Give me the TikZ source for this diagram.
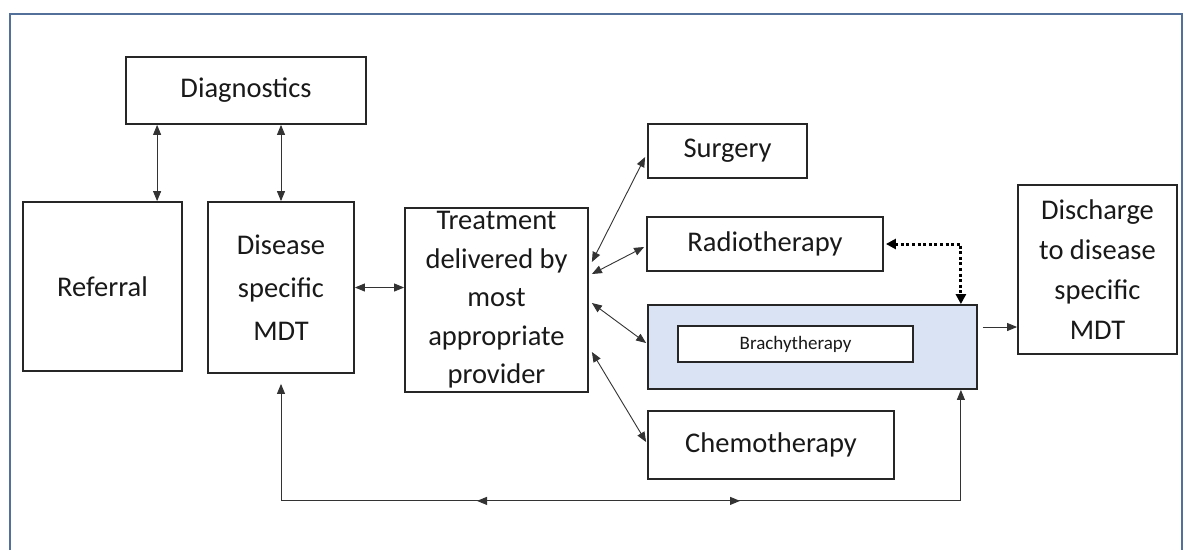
\documentclass[tikz,border=0pt]{standalone}
\usepackage{fontspec}
\setmainfont{Carlito}
\usetikzlibrary{arrows.meta,calc}
\definecolor{framecol}{HTML}{52709A}
\definecolor{boxline}{HTML}{262626}
\definecolor{brachyfill}{HTML}{DAE3F3}
\definecolor{conn}{HTML}{333333}
\begin{document}
\begin{tikzpicture}[x=1pt,y=-1pt,
  box/.style={draw=boxline,line width=1.8pt,inner sep=0pt,align=center,text=black!90,
    font=\fontsize{28.5}{38.5}\selectfont},
  dbl/.style={draw=conn,line width=0.9pt,{Triangle[length=10pt,width=8pt]}-{Triangle[length=10pt,width=8pt]}},
  arr/.style={draw=conn,line width=0.9pt,-{Triangle[length=10pt,width=8pt]}},
  dotarr/.style={draw=black,line width=3pt,dash pattern=on 3pt off 2.6pt,
    {Triangle[length=10pt,width=10pt]}-{Triangle[length=10pt,width=10pt]}}]
\useasboundingbox (0,0) rectangle (1192,550);
\fill[white] (0,0) rectangle (1192,550);
\draw[framecol,line width=2pt] (10,550) -- (10,14) -- (1182,14) -- (1182,550);

\node[box,minimum width=240pt,minimum height=67pt] (diag) at (246,90.5) {Diagnostics};
\node[box,minimum width=159pt,minimum height=169pt] (ref) at (102.5,286.5) {Referral};
\node[box,minimum width=146pt,minimum height=171pt,font=\fontsize{28.5}{43}\selectfont] (mdt) at (281,287.5) {Disease\\specific\\MDT};
\node[box,minimum width=183pt,minimum height=184pt] (treat) at (496.5,300) {Treatment\\delivered by\\most\\appropriate\\provider};
\node[box,minimum width=159pt,minimum height=54pt] (surg) at (727.5,151) {Surgery};
\node[box,minimum width=236pt,minimum height=54pt] (radio) at (765,244) {Radiotherapy};
\node[box,fill=brachyfill,minimum width=329pt,minimum height=84pt] (brachy) at (812.5,347) {};
\node[box,fill=white,minimum width=235pt,minimum height=36pt,font=\fontsize{19}{22}\selectfont] (inner) at (795.5,344) {Brachytherapy};
\node[box,minimum width=246pt,minimum height=68pt] (chemo) at (771,445) {Chemotherapy};
\node[box,minimum width=159pt,minimum height=169pt,font=\fontsize{28.5}{40}\selectfont] (disc) at (1097.5,269.5) {Discharge\\to disease\\specific\\MDT};

% connectors
\coordinate (d1) at ($(diag.south west)+(32,0)$);
\draw[dbl] (d1) -- (d1 |- ref.north);
\draw[dbl] (diag.south -| mdt.north) -- (mdt.north);
\draw[dbl] (mdt.east) -- (mdt.east -| treat.west);
\draw[dbl] ($(treat.east)+(3,-38)$) -- ($(surg.west)+(-2,6)$);
\draw[dbl] ($(treat.east)+(3,-26)$) -- ($(radio.west)+(-2,3)$);
\draw[dbl] ($(treat.east)+(3,3)$) -- ($(brachy.west)+(-1,-4)$);
\draw[dbl] ($(treat.east)+(3,52)$) -- ($(chemo.west)+(-1,-3)$);
\draw[dotarr] ($(radio.east)+(2,0)$) -| ($(brachy.north east)+(-17,0)$);
\coordinate (b1) at ($(brachy.east)+(5,-20)$);
\draw[arr] (b1) -- (b1 -| disc.west);
% bottom loop
\coordinate (bl) at ($(mdt.south)+(0,127)$);
\coordinate (br) at ($(brachy.south east)+(-17,111)$);
\draw[dbl] ($(mdt.south)+(0,10)$) -- (bl) -- (br) -- (brachy.south east -| br);
\draw[arr] ($(bl)+(230,0)$) -- ($(bl)+(196,0)$);
\draw[arr] ($(bl)+(420,0)$) -- ($(bl)+(459,0)$);
\end{tikzpicture}
\end{document}
